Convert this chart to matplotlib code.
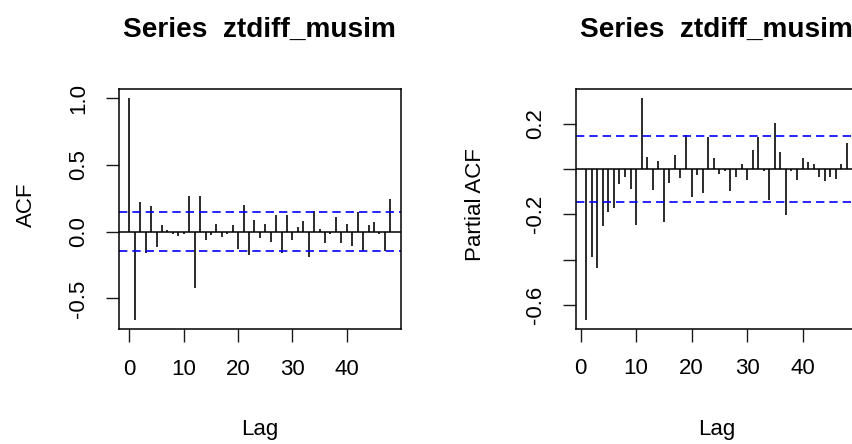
import numpy as np
import matplotlib
matplotlib.use('Agg')
import matplotlib.pyplot as plt


series_name = 'ztdiff_musim'
ci          = 0.147

acf_vals = [1.00, -0.662, 0.222, -0.157, 0.190, -0.115, 0.048, 0.013, -0.018, -0.030,
            -0.016, 0.270, -0.425, 0.270, -0.060, -0.028, 0.057, -0.038, -0.016, 0.047,
            -0.128, 0.200, -0.172, 0.090, -0.049, 0.057, -0.080, 0.125, -0.157, 0.125,
            -0.060, 0.035, 0.080, -0.190, 0.152, 0.023, -0.083, -0.016, 0.113, -0.083,
            0.057, -0.105, 0.150, -0.144, 0.047, 0.070, -0.016, -0.144, 0.245]
acf_lags = np.arange(len(acf_vals))

pacf_vals = [-0.665, -0.389, -0.436, -0.253, -0.190, -0.170, -0.067, -0.034, -0.086, -0.247,
             0.313, 0.054, -0.092, 0.035, -0.235, -0.060, 0.060, -0.041, 0.150, -0.124,
             -0.028, -0.105, 0.142, 0.048, -0.022, -0.009, -0.098, -0.035, 0.022, -0.048,
             0.086, 0.140, -0.009, -0.137, 0.203, 0.074, -0.203, -0.009, -0.048, 0.048,
             0.029, 0.022, -0.034, -0.053, -0.034, -0.042, 0.022, 0.113]
pacf_lags = np.arange(1, len(pacf_vals) + 1)

acf_yticks   = [-0.5, 0.0, 0.5, 1.0]
acf_ylabels  = ['-0.5', '0.0', '0.5', '1.0']
pacf_yticks  = [-0.6, -0.4, -0.2, 0.0, 0.2]
pacf_ylabels = ['-0.6', '', '-0.2', '', '0.2']
xticks       = [0, 10, 20, 30, 40]


def rlim(lo, hi):
	d = 0.04 * (hi - lo)
	return lo - d, hi + d


plt.rcParams['font.family'] = ['Liberation Sans', 'DejaVu Sans']

fig = plt.figure(figsize=(8.53, 4.44), dpi=100)
W, H = 853., 444.
ax1 = fig.add_axes([119/W, 1 - 329/H, 281.7/W, 239.7/H])
ax2 = fig.add_axes([575.7/W, 1 - 328.5/H, 281.7/W, 239.2/H])

panels = [(ax1, acf_lags, acf_vals, 'ACF', acf_yticks, acf_ylabels, -0.327),
          (ax2, pacf_lags, pacf_vals, 'Partial ACF', pacf_yticks, pacf_ylabels, -0.357)]

for ax, lags, vals, ylab, yt, yl, ylx in panels:
	vals = np.asarray(vals)
	ax.vlines(lags, 0, vals, color='#1a1a1a', lw=1.3)
	ax.axhline(0, color='black', lw=1.1)
	for s in (ci, -ci):
		ax.axhline(s, color='#0000ff', lw=1.2, ls=(0, (5.0, 3.0)))
	ax.set_xlim(*rlim(lags.min(), lags.max()))
	ax.set_ylim(*rlim(min(vals.min(), -ci), max(vals.max(), ci)))
	ax.set_xticks(xticks)
	ax.set_xticklabels([str(t) for t in xticks])
	ax.set_yticks(yt)
	ax.set_yticklabels(yl, rotation=90, va='center')
	ax.tick_params(direction='out', length=9.5, width=1.0, color='#1a1a1a',
	               labelsize=16, pad=12)
	for sp in ax.spines.values():
		sp.set_linewidth(1.1)
	ax.set_title('Series  ' + series_name, fontsize=20.2, fontweight='bold', pad=38)
	ax.set_xlabel('Lag', fontsize=16)
	ax.set_ylabel(ylab, fontsize=16)
	ax.xaxis.set_label_coords(0.5, -0.421)
	ax.xaxis.label.set_va('center')
	ax.yaxis.set_label_coords(ylx, 0.517)
	ax.yaxis.label.set_va('center')

fig.savefig('out.png', dpi=100)
